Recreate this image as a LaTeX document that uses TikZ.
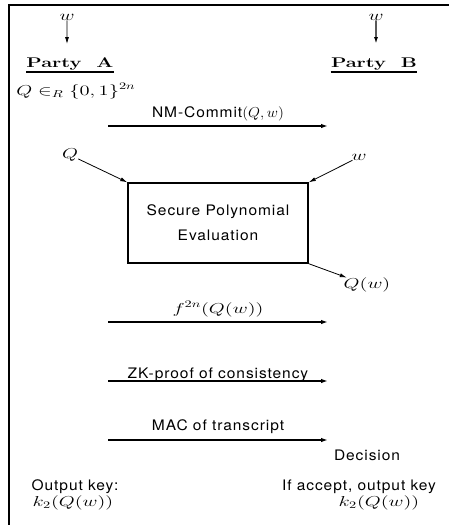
\documentclass[tikz,border=0pt]{standalone}
\usepackage{fontspec}
\setsansfont{TeX Gyre Heros}[LetterSpace=6]
\usepackage{amsmath}
\usepackage{amssymb}
\usetikzlibrary{arrows.meta}

\begin{document}
\begin{tikzpicture}[x=1pt,y=-1pt]
\tikzstyle{every node}+=[inner sep=0pt]
\tikzstyle{sftext}=[font=\fontsize{14.5}{25}\selectfont\sffamily, xscale=1.07]
\tikzstyle{rmtext}=[font=\fontsize{14}{19}\selectfont, xscale=1.43]
\tikzstyle{msg}=[black, line width=1.6pt, -{Latex[length=7pt,width=4.5pt]}]
\tikzstyle{feed}=[black, line width=0.8pt, -{Latex[length=7pt,width=4pt]}]
\useasboundingbox (0,0) rectangle (449,525);
\draw [black, line width=2.4pt] (9,525) -- (9,5) -- (449,5);
\node [rmtext] (wa) at (67,17) {$w$};
\node [rmtext] (wb) at (376,17) {$w$};
\coordinate (wae) at (67,44);
\coordinate (wbe) at (376,44);
\draw [feed] (wa) -- (wae);
\draw [feed, line width=1.4pt] (wb) -- (wbe);
\node [rmtext, anchor=base] (pa) at (70,67) {\textbf{Party\ \ A}};
\node [rmtext, anchor=base] (pb) at (374,67) {\textbf{Party\ \ B}};
\draw [black, line width=1.8pt] ([yshift=-2pt]pa.south west) -- ([yshift=-2pt]pa.south east);
\draw [black, line width=1.8pt] ([yshift=-2pt]pb.south west) -- ([yshift=-2pt]pb.south east);
\node [rmtext, anchor=base] (choose) at (76,95) {$Q \in_R \{0,1\}^{2n}$};
\coordinate (m1a) at (108,126);
\coordinate (m1b) at (328,126);
\draw [msg] (m1a) -- node [sftext, midway, anchor=base, yshift=9pt] {NM-Commit$(Q,w)$} (m1b);
\node [rmtext] (qin) at (70,155) {$Q$};
\node [rmtext] (win) at (359,157) {$w$};
\node [sftext, draw, line width=1.4pt, minimum width=168.2pt, minimum height=80pt, align=center] (spe) at (218,223) {Secure Polynomial\\Evaluation};
\node [rmtext] (qw) at (367,285) {$Q(w)$};
\draw [feed] (qin) -- (spe.north west);
\draw [feed] (win) -- (spe.north east);
\draw [feed] (spe.south east) -- (qw);
\coordinate (m2a) at (108,322);
\coordinate (m2b) at (328,322);
\draw [msg] (m2a) -- node [rmtext, midway, anchor=base, yshift=9pt] {$f^{2n}(Q(w))$} (m2b);
\coordinate (m3a) at (108,381);
\coordinate (m3b) at (328,381);
\draw [msg] (m3a) -- node [sftext, midway, anchor=base, yshift=3pt] {ZK-proof of consistency} (m3b);
\coordinate (m4a) at (108,440);
\coordinate (m4b) at (328,440);
\draw [msg] (m4a) -- node [sftext, midway, anchor=base, yshift=10pt] {MAC of transcript} (m4b);
\node [sftext, anchor=base] (dec) at (367,460) {Decision};
\node [sftext, anchor=base] (outa) at (75,490) {Output key:};
\node [rmtext, anchor=base] (keya) at (73,506) {$k_2(Q(w))$};
\node [sftext, anchor=base] (outb) at (359,490) {If accept, output key};
\node [rmtext, anchor=base] (keyb) at (379,506) {$k_2(Q(w))$};
\end{tikzpicture}
\end{document}
